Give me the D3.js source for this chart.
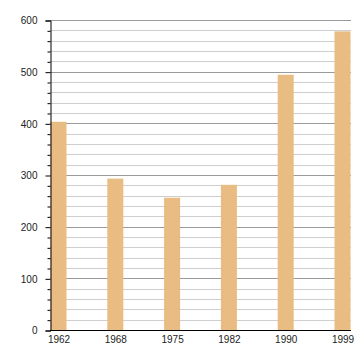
<!DOCTYPE html>
<html><head><meta charset="utf-8">
<script src="https://cdn.jsdelivr.net/npm/d3@7/dist/d3.min.js"></script>
<style>html,body{margin:0;padding:0;background:#fff;}svg{display:block;}</style>
</head><body>
<svg id="c" width="360" height="360"></svg>
<script>
const years = ["1962", "1968", "1975", "1982", "1990", "1999"];
const values = [403, 293, 256, 281, 494, 578];
const yMajorTicks = [0, 100, 200, 300, 400, 500, 600];
const yMinorTicks = d3.range(0, 601, 20).filter(v => v % 100 !== 0);

const svg = d3.select("#c");
const mLeft = 50, mRight = 351, mTop = 20, mBottom = 330;
const y = d3.scaleLinear().domain([0, 600]).range([mBottom, mTop]);
const x = d3.scalePoint().domain(years).range([58.5, 342.5]);
const barW = 16;
const font = "'Liberation Sans', Arial, sans-serif";

// minor grid
svg.append("g").selectAll("line").data(yMinorTicks).join("line")
  .attr("x1", mLeft).attr("x2", mRight)
  .attr("y1", d => Math.round(y(d)) + 0.5).attr("y2", d => Math.round(y(d)) + 0.5)
  .attr("stroke", "#cfcfcf").attr("stroke-width", 1);
// major grid
svg.append("g").selectAll("line").data(yMajorTicks.filter(d => d > 0)).join("line")
  .attr("x1", mLeft).attr("x2", mRight)
  .attr("y1", d => Math.round(y(d)) + 0.5).attr("y2", d => Math.round(y(d)) + 0.5)
  .attr("stroke", "#9a9a9a").attr("stroke-width", 1);

// bars
svg.append("g").selectAll("rect").data(values).join("rect")
  .attr("x", (d, i) => x(years[i]) - barW / 2)
  .attr("width", barW)
  .attr("y", d => y(d))
  .attr("height", d => y(0) - y(d))
  .attr("fill", "#e8bc82");

// y axis major
const yAxis = d3.axisLeft(y).tickValues(yMajorTicks).tickSize(5).tickPadding(8).tickFormat(d3.format("d"));
const gy = svg.append("g").attr("transform", `translate(${mLeft + 0.5},0.5)`).call(yAxis);
gy.select(".domain").attr("stroke", "#000");
gy.selectAll(".tick line").attr("stroke", "#000");
gy.selectAll("text").attr("font-family", font).attr("font-size", 10).attr("fill", "#222");
// y axis minor
const gym = svg.append("g").attr("transform", `translate(${mLeft + 0.5},0.5)`)
  .call(d3.axisLeft(y).tickValues(yMinorTicks).tickSize(3).tickFormat(""));
gym.select(".domain").remove();
gym.selectAll(".tick line").attr("stroke", "#000");

// x axis
const xAxis = d3.axisBottom(x).tickSize(0).tickPadding(5);
const gx = svg.append("g").attr("transform", `translate(0,${mBottom + 0.5})`).call(xAxis);
gx.select(".domain").attr("d", `M${mLeft},0H${mRight}`).attr("stroke", "#000");
gx.selectAll("text").attr("font-family", font).attr("font-size", 10).attr("fill", "#222");
</script>
</body></html>
